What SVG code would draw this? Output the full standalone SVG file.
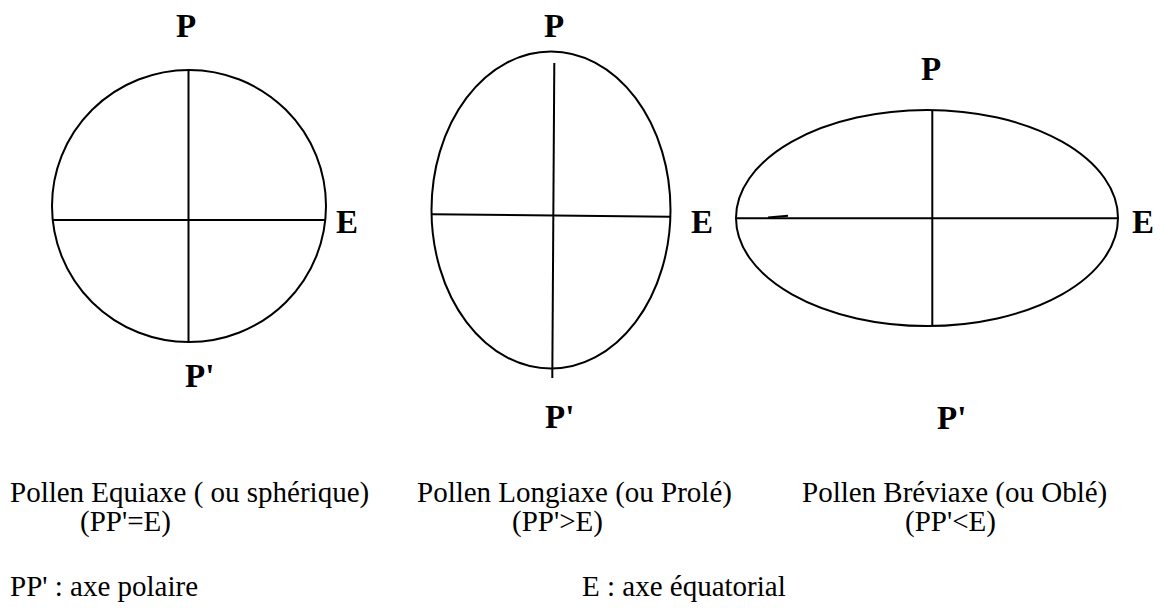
<svg xmlns="http://www.w3.org/2000/svg" width="1162" height="608" viewBox="0 0 1162 608">
<style>
.shape{fill:none;stroke:#000;stroke-width:2}
.axis{stroke:#000;stroke-width:2;fill:none}
.lbl{font-family:"Liberation Serif","Times New Roman",serif;font-weight:bold;font-size:33px;fill:#000}
.cap{font-family:"Liberation Serif","Times New Roman",serif;font-size:29px;fill:#000}
</style>
<rect width="1162" height="608" fill="#fff"/>
<g id="equiaxe">
<ellipse class="shape" cx="189" cy="206" rx="137" ry="136"/>
<line class="axis" x1="188.5" y1="70" x2="188.5" y2="342"/>
<line class="axis" x1="53" y1="220" x2="325" y2="220"/>
<text class="lbl" x="176" y="37">P</text>
<text class="lbl" x="336" y="233">E</text>
<text class="lbl" x="185" y="387">P'</text>
</g>
<g id="longiaxe">
<ellipse class="shape" cx="551" cy="210" rx="119.5" ry="158.5"/>
<line class="axis" x1="554.3" y1="63" x2="552.3" y2="378"/>
<line class="axis" x1="432" y1="214.3" x2="670" y2="216.7"/>
<text class="lbl" x="544" y="37">P</text>
<text class="lbl" x="691" y="233">E</text>
<text class="lbl" x="545" y="428">P'</text>
</g>
<g id="breviaxe">
<ellipse class="shape" cx="927" cy="218" rx="191" ry="108"/>
<line class="axis" x1="932.3" y1="110" x2="932.3" y2="326"/>
<line class="axis" x1="736" y1="218.3" x2="1118" y2="218.3"/>
<line class="axis" x1="768" y1="217.5" x2="788" y2="215.8"/>
<text class="lbl" x="921" y="80">P</text>
<text class="lbl" x="1132" y="233">E</text>
<text class="lbl" x="937" y="429">P'</text>
</g>
<g id="connectors"></g>
<g id="captions">
<text class="cap" x="10" y="502">Pollen Equiaxe ( ou sphérique)</text>
<text class="cap" x="80" y="531">(PP'=E)</text>
<text class="cap" x="417" y="502">Pollen Longiaxe (ou Prolé)</text>
<text class="cap" x="512" y="531">(PP'&gt;E)</text>
<text class="cap" x="802" y="502">Pollen Bréviaxe (ou Oblé)</text>
<text class="cap" x="905" y="531">(PP'&lt;E)</text>
<text class="cap" x="10" y="596">PP' : axe polaire</text>
<text class="cap" x="582" y="596">E : axe équatorial</text>
</g>
</svg>
